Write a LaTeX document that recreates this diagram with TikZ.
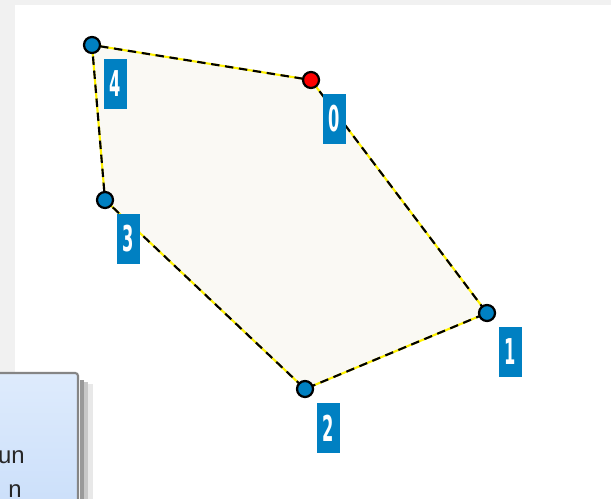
\documentclass[tikz,border=0pt]{standalone}
\usepackage{fontspec}
\newfontfamily\tipfont{Liberation Sans}
\newfontfamily\digitfont{DejaVu Sans}
\usetikzlibrary{positioning}

\definecolor{ptblue}{HTML}{0080C2}
\definecolor{areafill}{HTML}{FAF9F4}
\definecolor{framegray}{HTML}{F1F1F1}
\definecolor{tipgray}{HTML}{858585}
\definecolor{tiptop}{HTML}{DEEBFC}
\definecolor{tipbottom}{HTML}{CBDFFA}

\newcommand{\tagdigit}[1]{\scalebox{1.05}[2.3]{#1}}

\begin{document}
\begin{tikzpicture}[x=0.025cm, y=-0.025cm,
  vertex/.style={circle, draw=black, line width=1.6pt, fill=ptblue,
                 minimum size=0.40cm, inner sep=0pt},
  tag/.style={fill=ptblue, text=white, minimum width=0.575cm,
              minimum height=1.25cm, inner sep=0pt,
              font=\digitfont\bfseries\fontsize{11}{11}\selectfont},
  edge/.style={line width=1.5pt}]

  \useasboundingbox (0,0) rectangle (611,499);
  \clip (0,0) rectangle (611,499);

  % window frame
  \fill[framegray] (0,0) rectangle (611,499);
  \fill[white] (15,5) rectangle (611,499);

  % corners of the area
  \coordinate (p0) at (311,80);
  \coordinate (p1) at (487,313);
  \coordinate (p2) at (305,389);
  \coordinate (p3) at (105,200);
  \coordinate (p4) at (92,45);

  \fill[areafill] (p0) -- (p1) -- (p2) -- (p3) -- (p4) -- cycle;
  \draw[edge, yellow] (p0) -- (p1) -- (p2) -- (p3) -- (p4) -- cycle;
  \draw[edge, black, dash pattern=on 6pt off 4pt]
    (p0) -- (p1) -- (p2) -- (p3) -- (p4) -- cycle;

  % handles
  \node[vertex, fill=red] (v0) at (p0) {};
  \node[vertex] (v1) at (p1) {};
  \node[vertex] (v2) at (p2) {};
  \node[vertex] (v3) at (p3) {};
  \node[vertex] (v4) at (p4) {};

  % index tags
  \node[tag, below right=0.18cm and 0.13cm of v0] (t0) {\tagdigit{0}};
  \node[tag, below right=0.18cm and 0.13cm of v1] (t1) {\tagdigit{1}};
  \node[tag, below right=0.18cm and 0.13cm of v2] (t2) {\tagdigit{2}};
  \node[tag, below right=0.18cm and 0.13cm of v3] (t3) {\tagdigit{3}};
  \node[tag, below right=0.18cm and 0.13cm of v4] (t4) {\tagdigit{4}};

  % tooltip
  \fill[black!40] (80,380) rectangle (84,499);
  \fill[black!22] (84,382) rectangle (88,499);
  \fill[black!9] (88,384) rectangle (93,499);
  \draw[tipgray, line width=1.5pt, top color=tiptop, bottom color=tipbottom,
        rounded corners=2pt] (-10,373) -| (78,510) -| cycle;
  \node[anchor=east, inner sep=0pt, text=black!85,
        font=\tipfont\fontsize{17}{17}\selectfont] (tipa) at (25,457) {un};
  \node[anchor=east, inner sep=0pt, text=black!85,
        font=\tipfont\fontsize{17}{17}\selectfont] (tipb) at (22,491) {n};
\end{tikzpicture}
\end{document}
